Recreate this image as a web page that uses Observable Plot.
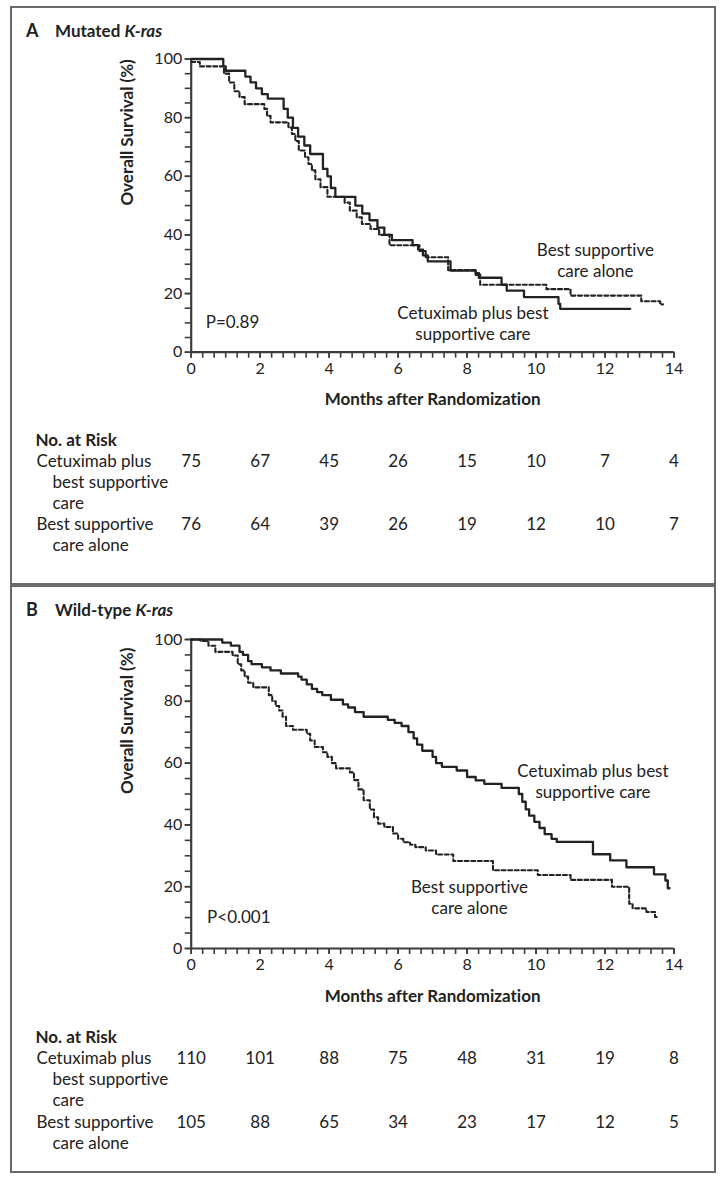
<!DOCTYPE html>
<html>
<head>
<meta charset="utf-8">
<script src="https://cdn.jsdelivr.net/npm/d3@7"></script>
<script src="https://cdn.jsdelivr.net/npm/@observablehq/plot@0.6"></script>
<style>
  body { margin: 0; background: #fff; font-family: Lato, "Noto Sans", sans-serif; color: #222; font-variant-ligatures: none; }
  #page { position: relative; width: 726px; height: 1184px; overflow: hidden; background: #fff; }
  .box { position: absolute; left: 10px; width: 706px; box-sizing: border-box; border: 2px solid #6a6a6a; }
  .title { position: absolute; left: 26px; font-weight: bold; font-size: 17px; line-height: 20px; white-space: nowrap; }
  .title .letter { display: inline-block; width: 29px; font-size: 18px; }
  .abs { position: absolute; left: 0; }
  svg { overflow: visible; font-variant-ligatures: none; }
  svg text { font-variant-ligatures: none; }
</style>
</head>
<body>
<div id="page">
  <div class="box" style="top:6px;height:579px;"></div>
  <div class="box" style="top:585px;height:588px;"></div>
  <div class="title" style="top:20px;"><span class="letter">A</span>Mutated <i>K-ras</i></div>
  <div class="title" style="top:599px;"><span class="letter">B</span>Wild-type <i>K-ras</i></div>
  <div class="abs" id="chartA" style="top:40px;"></div>
  <div class="abs" id="riskA" style="top:425px;"></div>
  <div class="abs" id="chartB" style="top:620px;"></div>
  <div class="abs" id="riskB" style="top:1020px;"></div>
</div>
<script>
// ---------- data (month, overall survival %) : step change points ----------
const cetuxMutated = [
  [0,100],[0.93,97.5],[1.0,96],[1.57,94],[1.72,92],[1.88,90],[2.05,88],[2.22,86.5],
  [2.68,83],[2.8,80],[2.95,76.5],[3.1,73.5],[3.28,70.5],[3.45,67.6],[3.82,62.5],
  [3.95,60],[4.05,56],[4.18,53],[4.76,50],[4.96,47.3],[5.17,45],[5.4,42.5],[5.6,40],
  [5.82,38.2],[6.42,36.5],[6.58,35],[6.72,33],[6.86,31],[7.52,27.8],[8.25,26.4],
  [8.34,25.4],[9.0,23],[9.15,21],[9.65,18.8],[10.65,16.5],[10.7,14.8],[12.73,14.8]
];
const bscMutated = [
  [0,99],[0.25,97.5],[0.95,95],[1.1,92],[1.25,89],[1.4,87],[1.55,84.6],[2.12,83],
  [2.2,80.6],[2.3,78.4],[2.82,76.6],[2.92,74.4],[3.02,72],[3.12,68.8],[3.3,66.5],
  [3.4,64.2],[3.5,62],[3.6,59],[3.75,56.3],[3.95,53],[4.45,51],[4.6,48.3],[4.8,46],
  [4.95,43.7],[5.2,42],[5.45,40],[5.75,36.5],[6.62,34.5],[6.8,32.4],[7.45,28],
  [8.25,27],[8.38,23],[10.3,21.5],[11.0,19.3],[13.05,17.4],[13.6,16.3],[13.68,16.3]
];
const cetuxWild = [
  [0,100],[0.9,99],[1.15,98],[1.4,96],[1.5,95],[1.65,93],[1.75,92],[2.05,91],[2.3,90],
  [2.6,89],[3.1,88],[3.2,87],[3.35,85.5],[3.5,84],[3.65,83],[3.8,82],[4.05,80.5],
  [4.4,79],[4.55,78],[4.75,76.5],[5.0,75],[5.7,74],[5.9,73],[6.1,72],[6.3,70],
  [6.45,68],[6.55,66],[6.7,64],[7.0,62],[7.1,60],[7.27,58.8],[7.7,57.6],[8.0,55.5],
  [8.25,54.4],[8.5,53.3],[9.0,52],[9.5,50],[9.6,47.5],[9.7,45],[9.8,43],[9.95,41],
  [10.1,39],[10.25,37],[10.45,35.5],[10.6,34.5],[11.65,30.5],[12.15,28.5],[12.62,26.3],
  [13.42,24],[13.75,22],[13.82,19.5],[13.87,19.5]
];
const bscWild = [
  [0,100],[0.27,99.5],[0.5,98],[0.7,96],[1.2,94.8],[1.35,92],[1.45,90],[1.55,88],
  [1.65,86],[1.8,84.5],[2.25,82],[2.35,80],[2.45,78.5],[2.55,77],[2.65,75],[2.75,72],
  [2.95,70.8],[3.35,69.5],[3.45,67.3],[3.58,65.2],[3.82,63.5],[3.95,62],[4.08,60],
  [4.2,58.3],[4.6,57],[4.72,54.5],[4.85,51.5],[5.0,48],[5.18,45],[5.3,42.5],[5.42,40.4],
  [5.6,39.3],[5.85,37.2],[6.0,35.5],[6.15,34.4],[6.35,33.6],[6.5,32.8],[6.8,31.7],
  [7.1,30.4],[7.6,28.3],[8.75,25.3],[10.05,23.8],[11.0,22.2],[12.2,20],[12.7,14.5],
  [12.8,13],[13.2,11.8],[13.45,10.2],[13.5,10.2]
];

// ---------- numbers at risk ----------
const riskMonths = [0, 2, 4, 6, 8, 10, 12, 14];
const riskCetuxMutated = [75, 67, 45, 26, 15, 10, 7, 4];
const riskBscMutated   = [76, 64, 39, 26, 19, 12, 10, 7];
const riskCetuxWild    = [110, 101, 88, 75, 48, 31, 19, 8];
const riskBscWild      = [105, 88, 65, 34, 23, 17, 12, 5];

// ---------- ticks ----------
const majorXTicks = [0, 2, 4, 6, 8, 10, 12, 14];
const minorXTicks = d3.range(0, 43).map(i => i / 3);
const majorYTicks = [0, 20, 40, 60, 80, 100];
const minorYTicks = d3.range(0, 101, 5);

// ---------- text ----------
const groupLabelLines = [
  {line: 0, text: "Cetuximab plus", indent: false},
  {line: 1, text: "best supportive", indent: true},
  {line: 2, text: "care", indent: true},
  {line: 3, text: "Best supportive", indent: false},
  {line: 4, text: "care alone", indent: true}
];
const notesMutated = [
  {text: "Best supportive\ncare alone", month: 11.72, pct: 31.6},
  {text: "Cetuximab plus best\nsupportive care", month: 8.17, pct: 10.2}
];
const notesWild = [
  {text: "Cetuximab plus best\nsupportive care", month: 11.65, pct: 54.4},
  {text: "Best supportive\ncare alone", month: 8.07, pct: 16.8}
];
const pMutated = {text: "P=0.89", month: 0.42, pct: 10};
const pWild = {text: "P<0.001", month: 0.46, pct: 10};

// ---------- layout ----------
const W = 726, X0 = 190.7, X14 = 673.5;
const INK = "#222", AXIS = "#3c3c3c";
const FONT = "Lato, 'Noto Sans', sans-serif";

function kmChart({cet, bsc, notes, p, top, yTop, yBottom, height}) {
  const marginTop = yTop - top;
  const marginBottom = height - (yBottom - top);
  return Plot.plot({
    width: W, height,
    marginLeft: X0, marginRight: W - X14, marginTop, marginBottom,
    x: {domain: [0, 14]},
    y: {domain: [0, 100]},
    style: {fontFamily: FONT, fontSize: "16px", color: INK, background: "transparent"},
    marks: [
      Plot.axisX({ticks: minorXTicks, tickSize: 6, tickFormat: () => "", label: null, stroke: AXIS, strokeWidth: 1.6}),
      Plot.axisX({ticks: majorXTicks, tickSize: 6, tickPadding: 4, label: null, stroke: AXIS, strokeWidth: 1.6, fontSize: 16}),
      Plot.axisY({ticks: minorYTicks, tickSize: 6, tickFormat: () => "", label: null, stroke: AXIS, strokeWidth: 1.6}),
      Plot.axisY({ticks: majorYTicks, tickSize: 6, tickPadding: 3, label: null, stroke: AXIS, strokeWidth: 1.6, fontSize: 16}),
      Plot.ruleX([0], {y1: 0, y2: 100, stroke: AXIS, strokeWidth: 2.2}),
      Plot.ruleY([0], {x1: 0, x2: 14, stroke: AXIS, strokeWidth: 2.2}),
      Plot.line(bsc, {x: d => d[0], y: d => d[1], curve: "step-after", stroke: INK, strokeWidth: 2.1, strokeDasharray: "4,2.6"}),
      Plot.line(cet, {x: d => d[0], y: d => d[1], curve: "step-after", stroke: INK, strokeWidth: 2.3}),
      Plot.text(notes, {x: "month", y: "pct", text: "text", fontSize: 17, lineHeight: 1.24, fill: INK}),
      Plot.text([p], {x: "month", y: "pct", text: "text", fontSize: 17, textAnchor: "start", fill: INK}),
      Plot.text(["Months after Randomization"], {text: d => d, frameAnchor: "bottom", dy: 53, fontSize: 17, fontWeight: "bold", fill: INK}),
      Plot.text(["Overall Survival (%)"], {text: d => d, frameAnchor: "left", dx: -64, rotate: -90, fontSize: 17, fontWeight: "bold", fill: INK})
    ]
  });
}

function riskTable({cetN, bscN, top, rowFirst, rowLast, height}) {
  const rows = riskMonths.flatMap((m, i) => [
    {month: m, line: 0, n: cetN[i]},
    {month: m, line: 3, n: bscN[i]}
  ]);
  return Plot.plot({
    width: W, height,
    marginLeft: X0, marginRight: W - X14, marginTop: 0, marginBottom: 0,
    x: {domain: [0, 14], axis: null},
    y: {domain: [-1, 4], range: [rowFirst - top, rowLast - top], axis: null},
    style: {fontFamily: FONT, fontSize: "17px", color: INK, background: "transparent"},
    marks: [
      Plot.text(["No. at Risk"], {text: d => d, x: () => 0, y: () => -1, dx: 35 - X0, textAnchor: "start", fontWeight: "bold", fontSize: 17, fill: INK}),
      Plot.text(groupLabelLines, {filter: d => !d.indent, x: () => 0, y: "line", text: "text", dx: 36 - X0, textAnchor: "start", fontSize: 17, fill: INK}),
      Plot.text(groupLabelLines, {filter: d => d.indent, x: () => 0, y: "line", text: "text", dx: 52 - X0, textAnchor: "start", fontSize: 17, fill: INK}),
      Plot.text(rows, {x: "month", y: "line", text: d => String(d.n), fontSize: 17, fill: INK})
    ]
  });
}

document.getElementById("chartA").append(kmChart({
  cet: cetuxMutated, bsc: bscMutated, notes: notesMutated, p: pMutated,
  top: 40, yTop: 58.5, yBottom: 351.7, height: 382
}));
document.getElementById("riskA").append(riskTable({
  cetN: riskCetuxMutated, bscN: riskBscMutated, top: 425, rowFirst: 440, rowLast: 545, height: 140
}));
document.getElementById("chartB").append(kmChart({
  cet: cetuxWild, bsc: bscWild, notes: notesWild, p: pWild,
  top: 620, yTop: 639, yBottom: 948, height: 398
}));
document.getElementById("riskB").append(riskTable({
  cetN: riskCetuxWild, bscN: riskBscWild, top: 1020, rowFirst: 1036.7, rowLast: 1143, height: 140
}));
</script>
</body>
</html>
